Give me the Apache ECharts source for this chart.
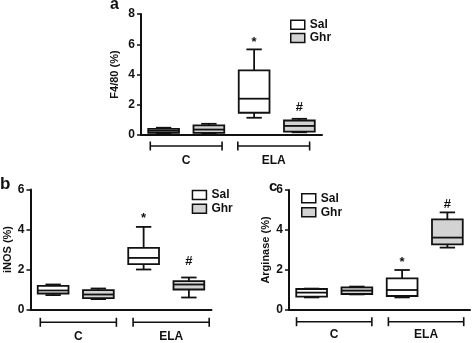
<!DOCTYPE html>
<html>
<head>
<meta charset="utf-8">
<script src="https://cdn.jsdelivr.net/npm/echarts@6/dist/echarts.min.js"></script>
<style>
  html, body { margin: 0; padding: 0; background: #fff; }
  #chart { width: 472px; height: 343px; }
</style>
</head>
<body>
<div id="chart"></div>
<script>
// categories
const cats = ["C Sal", "C Ghr", "ELA Sal", "ELA Ghr"];
const groups = ["C", "ELA"];
const treatments = ["Sal", "Ghr"];

// box values per category: [min, q1, median, q3, max]
const f480Box = [
  [0.08, 0.15, 0.28, 0.4, 0.48],
  [0.1, 0.14, 0.36, 0.63, 0.74],
  [1.14, 1.47, 2.4, 4.27, 5.66],
  [0.18, 0.22, 0.6, 0.96, 1.07],
];
const inosBox = [
  [0.72, 0.8, 0.95, 1.18, 1.25],
  [0.52, 0.57, 0.75, 0.97, 1.05],
  [2.0, 2.27, 2.58, 3.08, 4.13],
  [0.6, 1.0, 1.25, 1.42, 1.6],
];
const argBox = [
  [0.63, 0.67, 0.87, 1.05, 1.07],
  [0.78, 0.8, 0.97, 1.13, 1.17],
  [0.63, 0.7, 1.0, 1.58, 2.0],
  [3.12, 3.28, 3.62, 4.53, 4.88],
];

// significance marks: [category index, y, text]
const f480Marks = [[2, 6.13, "*"], [3, 1.84, "#"]];
const inosMarks = [[2, 4.55, "*"], [3, 2.4, "#"]];
const argMarks = [[2, 2.37, "*"], [3, 5.3, "#"]];

// y axis ticks
const f480Ticks = { min: 0, max: 8, step: 2 };
const inosTicks = { min: 0, max: 6, step: 2 };
const argTicks = { min: 0, max: 6, step: 2 };

const FONT = "Liberation Sans, Arial, sans-serif";
const INK = "#111";
const fills = { Sal: "#ffffff", Ghr: "#d3d3d3" };

// draw one box with short whisker caps
const renderBox = (params, api) => {
  const x = api.value(0);
  const p = [1, 2, 3, 4, 5].map((d) => api.coord([x, api.value(d)]));
  const cx = p[0][0];
  const [yMin, yQ1, yMed, yQ3, yMax] = p.map((q) => q[1]);
  const bw = api.size([1, 0])[0] * 0.68;
  const cw = bw * 0.5;
  const line = { stroke: INK, lineWidth: 1.8 };
  return {
    type: "group",
    children: [
      { type: "line", shape: { x1: cx, y1: yMax, x2: cx, y2: yQ3 }, style: line },
      { type: "line", shape: { x1: cx, y1: yQ1, x2: cx, y2: yMin }, style: line },
      { type: "line", shape: { x1: cx - cw / 2, y1: yMax, x2: cx + cw / 2, y2: yMax }, style: line },
      { type: "line", shape: { x1: cx - cw / 2, y1: yMin, x2: cx + cw / 2, y2: yMin }, style: line },
      {
        type: "rect",
        shape: { x: cx - bw / 2, y: yQ3, width: bw, height: yQ1 - yQ3 },
        style: { fill: api.visual("color"), stroke: INK, lineWidth: 1.8 },
      },
      { type: "line", shape: { x1: cx - bw / 2, y1: yMed, x2: cx + bw / 2, y2: yMed }, style: line },
    ],
  };
};

// bracket under each group
const renderBracket = (params, api) => {
  const [cx, cy] = api.coord([api.value(0), 0]);
  const half = api.size([1, 0])[0] * 0.41;
  const line = { stroke: INK, lineWidth: 1.6 };
  return {
    type: "group",
    children: [
      { type: "line", shape: { x1: cx - half, y1: cy, x2: cx + half, y2: cy }, style: line },
      { type: "line", shape: { x1: cx - half, y1: cy - 4.5, x2: cx - half, y2: cy + 4.5 }, style: line },
      { type: "line", shape: { x1: cx + half, y1: cy - 4.5, x2: cx + half, y2: cy + 4.5 }, style: line },
    ],
  };
};

const makeMarkRender = (marks) => (params, api) => {
  const m = marks[params.dataIndex];
  const [x, y] = api.coord([m[0], m[1]]);
  return {
    type: "text",
    x: x,
    y: y,
    style: {
      text: m[2],
      fill: INK,
      font: "bold 13px " + FONT,
      align: "center",
      verticalAlign: "middle",
    },
  };
};

const grids = [];
const xAxes = [];
const yAxes = [];
const series = [];
const legends = [];

// one panel = main grid + bracket grid
const addPanel = (cfg) => {
  const gi = grids.length;
  grids.push(cfg.grid, cfg.bracketGrid);
  xAxes.push(
    {
      type: "category",
      gridIndex: gi,
      data: cats,
      axisLine: { lineStyle: { color: INK, width: 2 } },
      axisTick: { show: false },
      axisLabel: { show: false },
    },
    {
      type: "category",
      gridIndex: gi + 1,
      data: groups,
      axisLine: { show: false },
      axisTick: { show: false },
      axisLabel: {
        color: INK,
        fontFamily: FONT,
        fontWeight: "bold",
        fontSize: 12,
        margin: cfg.labelMargin,
      },
    }
  );
  yAxes.push(
    {
      type: "value",
      gridIndex: gi,
      min: cfg.ticks.min,
      max: cfg.ticks.max,
      interval: cfg.ticks.step,
      name: cfg.name,
      nameLocation: "middle",
      nameRotate: 90,
      nameGap: cfg.nameGap,
      nameTextStyle: { color: INK, fontFamily: FONT, fontWeight: "bold", fontSize: 11 },
      axisLine: { show: true, lineStyle: { color: INK, width: 2 } },
      axisTick: { show: true, length: 4, lineStyle: { color: INK, width: 1.5 } },
      splitLine: { show: false },
      axisLabel: { color: INK, fontFamily: FONT, fontWeight: "bold", fontSize: 12, margin: 6 },
    },
    { type: "value", gridIndex: gi + 1, min: -1, max: 1, show: false }
  );
  const xi = xAxes.length - 2;
  const yi = yAxes.length - 2;
  treatments.forEach((t, ti) => {
    series.push({
      name: t,
      type: "custom",
      xAxisIndex: xi,
      yAxisIndex: yi,
      itemStyle: { color: fills[t], borderColor: INK, borderWidth: 1.5 },
      renderItem: renderBox,
      encode: { x: 0, y: [1, 2, 3, 4, 5] },
      data: cfg.box
        .map((b, i) => [i].concat(b))
        .filter((d) => d[0] % 2 === ti),
      silent: true,
    });
  });
  series.push({
    type: "custom",
    xAxisIndex: xi,
    yAxisIndex: yi,
    renderItem: makeMarkRender(cfg.marks),
    data: cfg.marks.map((m) => [m[0], m[1]]),
    silent: true,
  });
  series.push({
    type: "custom",
    xAxisIndex: xi + 1,
    yAxisIndex: yi + 1,
    renderItem: renderBracket,
    data: groups.map((g, i) => [i, 0]),
    silent: true,
  });
  legends.push({
    orient: "vertical",
    left: cfg.legend.left,
    top: cfg.legend.top,
    padding: 0,
    itemWidth: 14,
    itemHeight: 9,
    itemGap: cfg.legend.gap,
    selectedMode: false,
    textStyle: { color: INK, fontFamily: FONT, fontWeight: "bold", fontSize: 12, lineHeight: 12 },
    data: treatments.map((t) => ({
      name: t,
      icon: "rect",
      itemStyle: { color: fills[t], borderColor: INK, borderWidth: 1.5 },
    })),
  });
};

addPanel({
  grid: { left: 141, top: 14, width: 181, height: 121 },
  bracketGrid: { left: 142.4, top: 141, width: 175.1, height: 10 },
  labelMargin: 3.5,
  ticks: f480Ticks,
  name: "F4/80 (%)",
  nameGap: 21,
  box: f480Box,
  marks: f480Marks,
  legend: { left: 290, top: 18.7, gap: 1.3 },
});
addPanel({
  grid: { left: 30.5, top: 189.5, width: 181, height: 120 },
  bracketGrid: { left: 31.95, top: 317.3, width: 185.6, height: 10 },
  labelMargin: 3.7,
  ticks: inosTicks,
  name: "iNOS (%)",
  nameGap: 13.5,
  box: inosBox,
  marks: inosMarks,
  legend: { left: 191.7, top: 189, gap: 1.8 },
});
addPanel({
  grid: { left: 289, top: 190, width: 181, height: 120 },
  bracketGrid: { left: 288.25, top: 316.7, width: 185, height: 10 },
  labelMargin: 2,
  ticks: argTicks,
  name: "Arginase (%)",
  nameGap: 17.5,
  box: argBox,
  marks: argMarks,
  legend: { left: 301, top: 192.3, gap: 1.9 },
});

const titleStyle = (size) => ({ color: INK, fontFamily: FONT, fontWeight: "bold", fontSize: size });

const chart = echarts.init(document.getElementById("chart"));
chart.setOption({
  animation: false,
  backgroundColor: "#fff",
  title: [
    { text: "a", left: 110, top: -3, padding: 0, textStyle: titleStyle(16) },
    { text: "b", left: 0, top: 176, padding: 0, textStyle: titleStyle(17) },
    { text: "c", left: 269, top: 179, padding: 0, textStyle: titleStyle(15) },
  ],
  legend: legends,
  grid: grids,
  xAxis: xAxes,
  yAxis: yAxes,
  series: series,
});
</script>
</body>
</html>
